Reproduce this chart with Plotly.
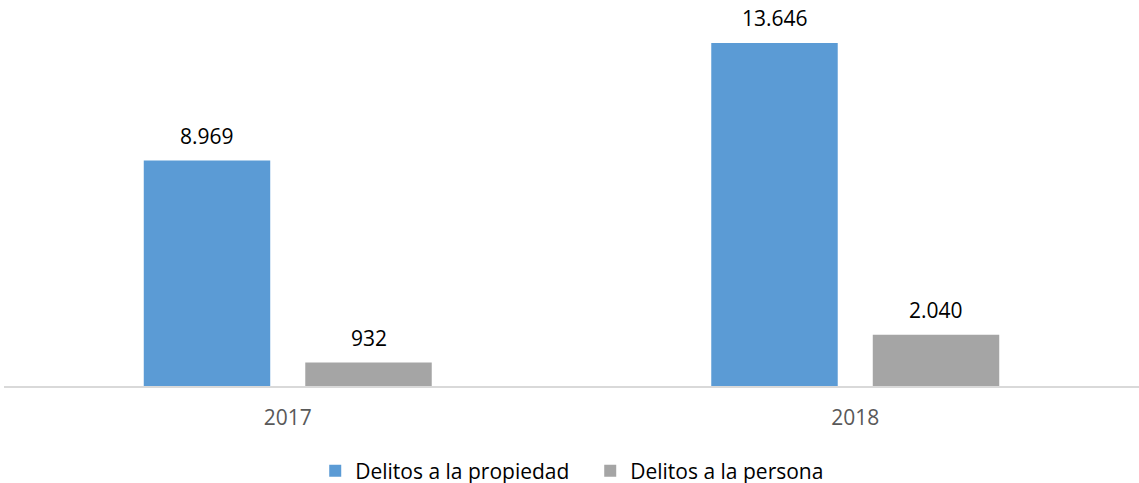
import plotly.graph_objects as go

categories = ["2017", "2018"]
propiedad = [8969, 13646]
persona = [932, 2040]
series_names = ["Delitos a la propiedad", "Delitos a la persona"]

FONT = "Open Sans"
FS = 21
colors = ["#5B9BD5", "#A5A5A5"]

fig = go.Figure()
for name, vals, col in zip(series_names, [propiedad, persona], colors):
    fig.add_trace(go.Bar(
        x=categories, y=vals, name=name,
        marker=dict(color=col, line=dict(width=0)),
    ))

# value labels above bars (x given as category index)
half_slot = 80.75
for vals, shift in [(propiedad, -half_slot), (persona, half_slot)]:
    for i, v in enumerate(vals):
        fig.add_annotation(
            x=i, y=v, xref="x", yref="y",
            text=f"{v:,}".replace(",", "."),
            showarrow=False, xshift=shift, yshift=25,
            xanchor="center", yanchor="middle",
            font=dict(family=FONT, size=FS, color="#000000"),
        )

fig.update_layout(
    width=1139, height=483,
    margin=dict(l=4, r=0, t=9, b=97, autoexpand=False),
    paper_bgcolor="white", plot_bgcolor="white",
    barmode="group", bargap=0.4308, bargroupgap=0.217,
    font=dict(family=FONT, size=FS, color="#000000"),
    showlegend=True,
    legend=dict(orientation="h", x=0.5165, xanchor="center", y=-0.2255, yanchor="middle",
                font=dict(size=FS, color="#000000", family=FONT),
                itemwidth=30, tracegroupgap=0, entrywidth=230),
    xaxis=dict(type="category", range=[-0.5, 1.5], showline=True, linecolor="#D9D9D9", linewidth=1.5,
               ticks="outside", ticklen=12, tickcolor="rgba(0,0,0,0)",
               tickfont=dict(color="#595959", size=FS, family=FONT),
               showgrid=False, zeroline=False, automargin=False),
    yaxis=dict(range=[0, 15000], visible=False, showgrid=False, zeroline=False),
)

fig.write_html("out.html")
